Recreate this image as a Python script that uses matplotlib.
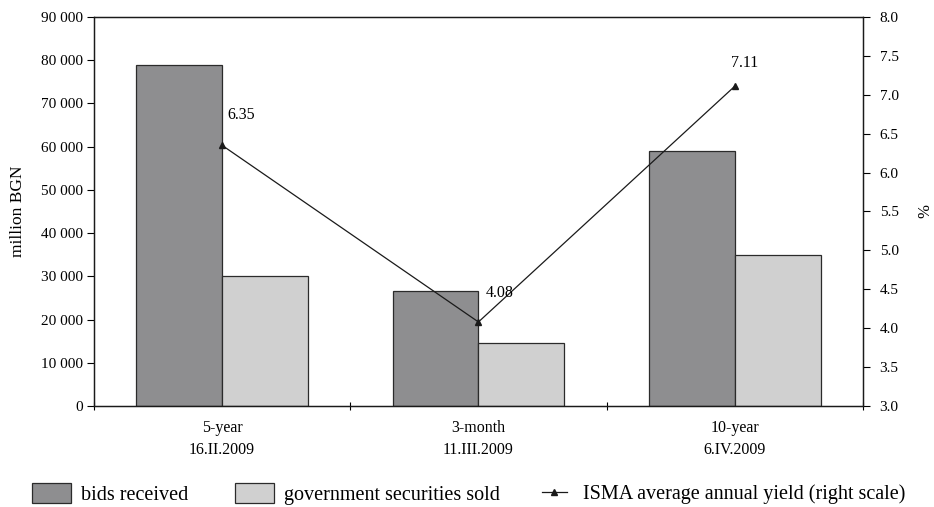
import numpy as np
import matplotlib
matplotlib.use('Agg')
import matplotlib.pyplot as plt
from matplotlib.ticker import FuncFormatter, MultipleLocator, FixedLocator

plt.rcParams['font.family'] = ['Liberation Serif', 'DejaVu Serif']

# data
categories = ['5-year\n16.II.2009', '3-month\n11.III.2009', '10-year\n6.IV.2009']
bids_received = [79000, 26500, 59000]
securities_sold = [30000, 14500, 35000]
isma_yield = [6.35, 4.08, 7.11]
yield_labels = ['6.35', '4.08', '7.11']
label_offsets = [(4, 22), (5, 21), (-3, 17)]   # points, text offset from marker

dark = '#8e8e90'
light = '#d0d0d0'
edge = '#2b2b2b'

fig = plt.figure(figsize=(9.34, 5.07), dpi=100)
ax = fig.add_axes([0.1006, 0.1992, 0.8233, 0.7673])
ax2 = ax.twinx()

x = np.arange(len(categories))
w = 0.335
ax.bar(x - w/2, bids_received, w, color=dark, edgecolor=edge, linewidth=0.9,
       label='bids received', zorder=2)
ax.bar(x + w/2, securities_sold, w, color=light, edgecolor=edge, linewidth=0.9,
       label='government securities sold', zorder=2)

ax2.plot(x, isma_yield, color='#1a1a1a', linewidth=0.9, marker='^', markersize=4.5,
         label='ISMA average annual yield (right scale)')
for xi, yi, txt, off in zip(x, isma_yield, yield_labels, label_offsets):
    ax2.annotate(txt, (xi, yi), xytext=off, textcoords='offset points',
                 ha='left', va='center', fontsize=11.5)

ax.set_xlim(-0.5, 2.5)
ax.set_ylim(0, 90000)
ax2.set_ylim(3.0, 8.0)

ax.yaxis.set_major_locator(MultipleLocator(10000))
ax.yaxis.set_major_formatter(FuncFormatter(lambda v, p: f'{int(v):,}'.replace(',', ' ')))
ax2.yaxis.set_major_locator(MultipleLocator(0.5))
ax2.yaxis.set_major_formatter(FuncFormatter(lambda v, p: f'{v:.1f}'))

ax.set_xticks(x)
ax.set_xticklabels(categories, fontsize=11.5, linespacing=1.55)
ax.xaxis.set_minor_locator(FixedLocator([-0.5, 0.5, 1.5, 2.5]))
ax.tick_params(axis='x', which='major', length=0, pad=10)
ax.tick_params(axis='x', which='minor', direction='inout', length=6, width=0.8)
ax.tick_params(axis='y', direction='out', length=5, width=0.8, labelsize=11, pad=3)
ax2.tick_params(axis='y', direction='out', length=5, width=0.8, labelsize=11, pad=7)

for sp in list(ax.spines.values()) + list(ax2.spines.values()):
    sp.set_linewidth(0.9)
    sp.set_color('#1a1a1a')

ax.set_ylabel('million BGN', fontsize=12.5)
ax.yaxis.set_label_coords(-0.089, 0.5)
ax2.set_ylabel('%', fontsize=12, rotation=90, va='center')
ax2.yaxis.set_label_coords(1.081, 0.5)

# legend: bars in one, line in another (shorter handle)
h1, l1 = ax.get_legend_handles_labels()
h2, l2 = ax2.get_legend_handles_labels()
leg1 = fig.legend(h1, l1, loc='center left', bbox_to_anchor=(0.034, 0.026),
                  ncol=2, frameon=False, fontsize=14.5, handlelength=1.95, handleheight=1.15,
                  handletextpad=0.5, columnspacing=2.3, borderpad=0, borderaxespad=0)
fig.legend(h2, l2, loc='center left', bbox_to_anchor=(0.580, 0.026),
           frameon=False, fontsize=14.5, handlelength=1.25,
           handletextpad=0.8, borderpad=0, borderaxespad=0)

fig.savefig('out.png', dpi=100)
